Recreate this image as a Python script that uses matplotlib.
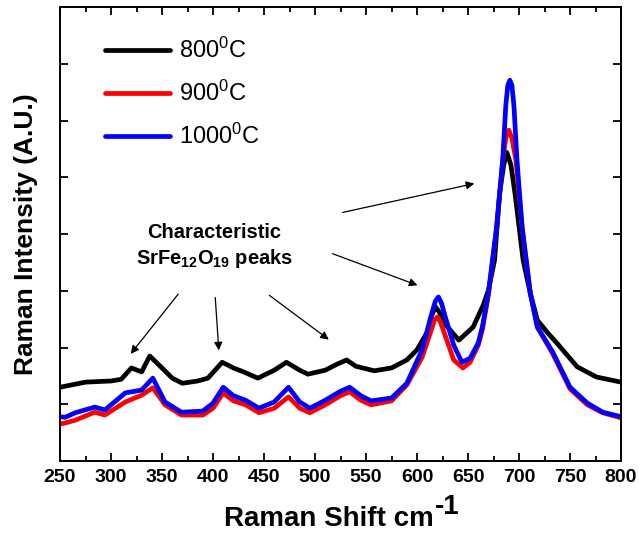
import matplotlib

matplotlib.use("Agg")
import matplotlib.pyplot as plt

plt.rcParams["font.family"] = ["Liberation Sans", "DejaVu Sans"]
plt.rcParams["mathtext.default"] = "regular"

# Raman spectra (intensity in arbitrary units)
shift_800 = [250, 275, 300, 310, 320, 330, 338, 350, 360, 370, 385, 395, 409, 420, 430, 444,
             460, 472, 485, 493, 510, 522, 531, 540, 558, 575, 590, 600, 610, 614, 618, 622, 628, 641,
             655, 665, 670, 676, 681, 685, 688, 692, 696, 704, 711, 718, 728, 737, 757, 776, 800]
int_800 = [1.30, 1.39, 1.41, 1.44, 1.64, 1.57, 1.85, 1.64, 1.46, 1.37, 1.41, 1.46, 1.74, 1.64, 1.57, 1.46,
           1.60, 1.74, 1.60, 1.53, 1.60, 1.71, 1.78, 1.67, 1.59, 1.64, 1.78, 1.96, 2.27, 2.55, 2.72, 2.62, 2.40, 2.13,
           2.36, 2.75, 3.01, 3.54, 4.72, 5.22, 5.44, 5.22, 4.72, 3.54, 2.96, 2.48, 2.26, 2.08, 1.66, 1.48, 1.39]

shift_900 = [250, 255, 265, 284, 294, 314, 330, 341, 353, 369, 390, 400, 410, 420, 432, 445,
             460, 474, 485, 495, 510, 525, 534, 545, 555, 575, 590, 605, 614, 617, 620, 623, 628, 636,
             645, 652, 660, 664, 670, 678, 684, 687, 690, 693, 697, 703, 711, 718, 733, 750, 767, 782, 800]
int_900 = [0.65, 0.67, 0.72, 0.86, 0.81, 1.04, 1.16, 1.29, 0.99, 0.81, 0.81, 0.93, 1.20, 1.06, 0.99, 0.85,
           0.93, 1.13, 0.93, 0.85, 0.99, 1.15, 1.22, 1.07, 0.99, 1.06, 1.34, 1.83, 2.31, 2.48, 2.54, 2.45, 2.19, 1.78,
           1.64, 1.74, 2.04, 2.31, 2.93, 4.11, 5.30, 5.69, 5.83, 5.69, 5.30, 4.12, 2.96, 2.36, 1.89, 1.27, 0.99, 0.85, 0.76]

shift_1000 = [250, 255, 265, 284, 294, 314, 330, 341, 353, 369, 390, 400, 410, 420, 432, 445,
              460, 474, 485, 495, 510, 525, 534, 545, 555, 575, 590, 605, 614, 618, 621, 624, 628, 636,
              644, 652, 660, 664, 670, 678, 684, 687, 689, 691, 693, 695, 698, 703, 711, 718, 733, 750, 767, 782, 800]
int_1000 = [0.78, 0.77, 0.85, 0.95, 0.90, 1.20, 1.25, 1.46, 1.04, 0.86, 0.88, 1.02, 1.30, 1.15, 1.07, 0.93,
            1.04, 1.30, 1.04, 0.93, 1.07, 1.23, 1.30, 1.15, 1.06, 1.11, 1.37, 1.96, 2.57, 2.82, 2.89, 2.78, 2.52, 2.04,
            1.74, 1.81, 2.08, 2.36, 2.96, 4.12, 5.30, 6.26, 6.62, 6.71, 6.62, 6.26, 5.30, 4.12, 2.96, 2.36, 1.92, 1.30, 1.02, 0.86, 0.78]

# (arrow tip, arrow tail) pairs for the "characteristic peaks" arrows
arrow_tips = [(317.6, 1.85), (405.9, 1.90), (515.7, 2.11), (603.0, 3.08), (658.8, 4.90)]
arrow_tails = [(367.6, 2.98), (402.0, 2.93), (453.0, 2.95), (514.7, 3.67), (524.5, 4.37)]

fig = plt.figure(figsize=(6.39, 5.36), dpi=100)
ax = fig.add_axes([0.0939, 0.1399, 0.878, 0.847])

style = dict(lw=3.4, solid_joinstyle="round", solid_capstyle="round")
ax.plot(shift_800, int_800, color="black", label="800$^0$C", **style)
ax.plot(shift_900, int_900, color="#ff0000", label="900$^0$C", **style)
ax.plot(shift_1000, int_1000, color="#0000ff", label="1000$^0$C", **style)

ax.text(401, 4.02, "Characteristic", ha="center", va="center", fontsize=14.5, fontweight="bold")
ax.text(401, 3.56, "SrFe$_{12}$O$_{19}$ peaks", ha="center", va="center", fontsize=14.5, fontweight="bold")
for tip, tail in zip(arrow_tips, arrow_tails):
    ax.annotate("", xy=tip, xytext=tail,
                arrowprops=dict(arrowstyle="-|>", color="black", lw=0.9, mutation_scale=12))

ax.set_xlim(250, 800)
ax.set_ylim(0, 8)
ax.set_xticks(range(250, 801, 50))
ax.set_xticks(range(275, 800, 50), minor=True)
ax.set_yticks(range(0, 9))
ax.set_yticklabels([])
ax.tick_params(which="both", direction="in", top=True, right=True, width=1.3)
ax.tick_params(which="major", length=6)
ax.tick_params(which="minor", length=3.5)
ax.tick_params(axis="x", labelsize=14, pad=6)
for lbl in ax.get_xticklabels():
    lbl.set_fontweight("bold")
for sp in ax.spines.values():
    sp.set_linewidth(1.4)

xlab = ax.set_xlabel("Raman Shift cm", fontsize=20, fontweight="bold")
ax.xaxis.set_label_coords(0.4786, -0.098)
# full-size "-1" raised after the unit, as in the original
ax.annotate("-1", xy=(1, 1), xycoords=xlab, xytext=(1, 12), textcoords="offset pixels",
            ha="left", va="top", fontsize=20, fontweight="bold")
ax.set_ylabel("Raman Intensity (A.U.)", fontsize=19, fontweight="bold", labelpad=12)

ax.legend(loc="upper left", bbox_to_anchor=(0.08, 0.932), frameon=False, fontsize=17,
          handlelength=2.75, handletextpad=0.4, labelspacing=0.75, borderpad=0, borderaxespad=0)

fig.savefig("out.png", dpi=100)
